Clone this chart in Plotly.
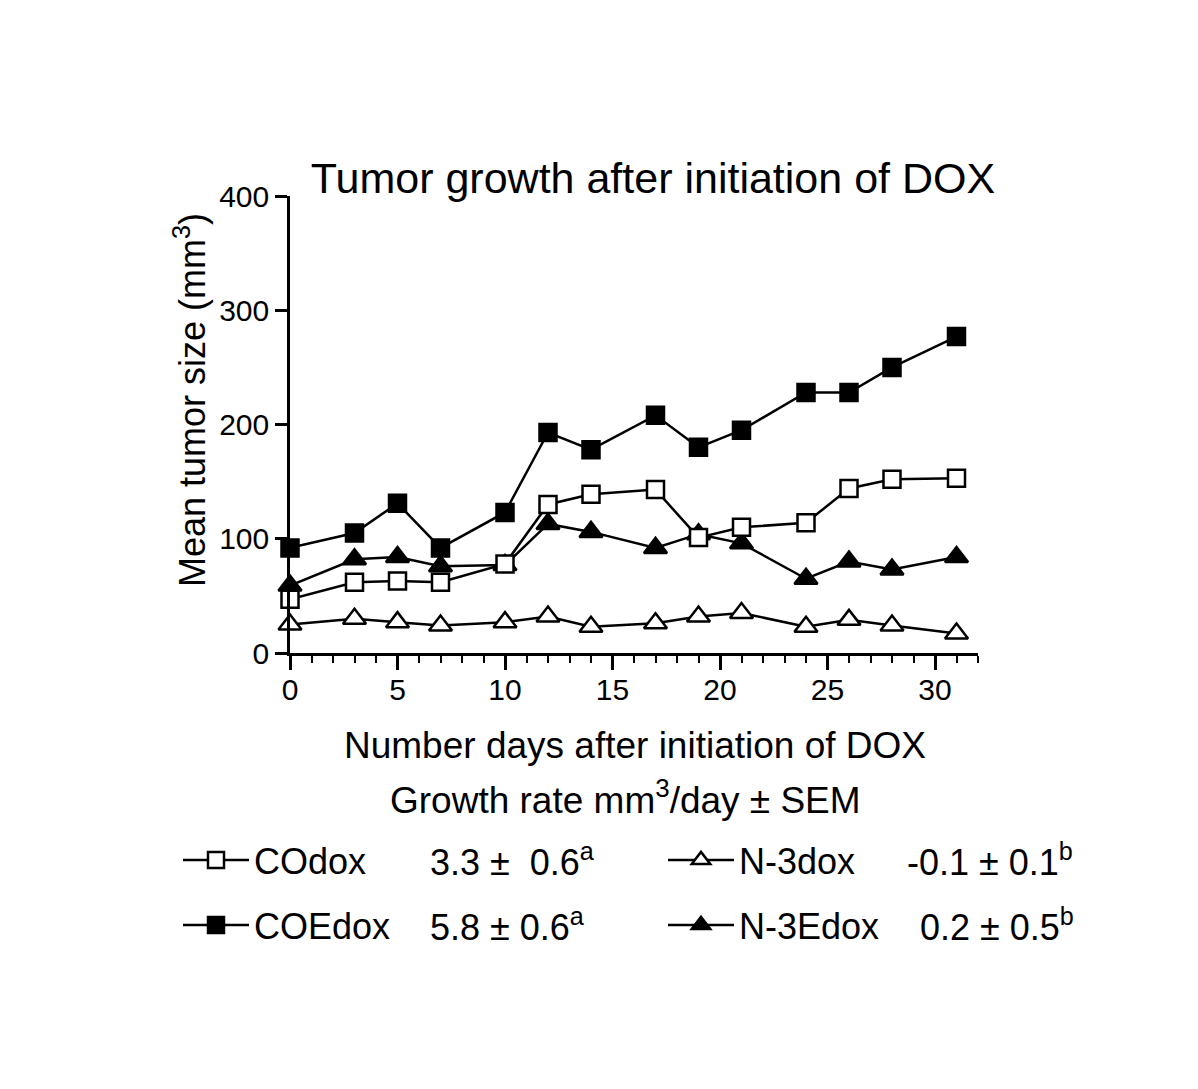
import plotly.graph_objects as go

days = [0, 3, 5, 7, 10, 12, 14, 17, 19, 21, 24, 26, 28, 31]
codox = [47, 62, 63, 62, 78, 130, 139, 143, 101, 110, 114, 144, 152, 153]
coedox = [92, 105, 131, 92, 123, 193, 178, 208, 180, 195, 228, 228, 250, 277]
n3dox = [25, 30, 27, 24, 27, 32, 23, 26, 32, 35, 23, 29, 24, 17]
n3edox = [59, 82, 84, 76, 77, 113, 106, 92, 104, 96, 65, 80, 73, 84]

names = ["COdox", "COEdox", "N-3dox", "N-3Edox"]
rates = ["3.3 \u00b1  0.6<sup>a</sup>", "5.8 \u00b1 0.6<sup>a</sup>",
         "-0.1 \u00b1 0.1<sup>b</sup>", "0.2 \u00b1 0.5<sup>b</sup>"]

title = "Tumor growth after initiation of DOX"
ytitle = "Mean tumor size (mm<sup>3</sup>)"
xtitle = "Number days after initiation of DOX"
subtitle = "Growth rate mm<sup>3</sup>/day \u00b1 SEM"

FONT = "Liberation Sans, Arial, sans-serif"
W, H = 1198, 1089
OFF = 8  # page body margin
PL, PR, PT, PB = 290, 978, 196, 653  # plot area in page pixels
L, T = PL - OFF, PT - OFF
R, B = W - (PR - OFF), H - (PB - OFF)
pw, ph = PR - PL, PB - PT

def px_x(p):
    return (p - PL) / pw

def px_y(p):
    return (PB - p) / ph

fig = go.Figure()

# (name, values, symbol, fill, legend id, legend x px, legend y px)
series = [
    (names[3], n3edox, "triangle-up", "black", "legend4", 663, 925),
    (names[2], n3dox, "triangle-up", "white", "legend3", 663, 860),
    (names[1], coedox, "square", "black", "legend2", 178, 925),
    (names[0], codox, "square", "white", "legend", 178, 860),
]
legend_layout = {}
for name, vals, sym, fill, leg, lx, ly in series:
    fig.add_trace(go.Scatter(
        x=days, y=vals, name=name, mode="lines+markers",
        line=dict(color="black", width=2.5),
        marker=dict(symbol=sym, size=17 if sym == "square" else 20, color=fill,
                    line=dict(color="black", width=2.5)),
        cliponaxis=False, legend=leg,
    ))
    legend_layout[leg] = dict(
        orientation="h", x=px_x(lx), xanchor="left", y=px_y(ly), yanchor="middle",
        itemwidth=66, font=dict(size=36, family=FONT, color="black"),
        bgcolor="rgba(0,0,0,0)", borderwidth=0)

fig.update_layout(
    width=W, height=H,
    margin=dict(l=L, r=R, t=T, b=B, autoexpand=False),
    paper_bgcolor="white", plot_bgcolor="white",
    font=dict(family=FONT, color="black", size=30),
    title=dict(text=title, x=px_x(653), xref="paper", xanchor="center",
               y=1 - (178 - OFF) / H, yref="container", yanchor="middle",
               font=dict(size=43, family=FONT, color="black")),
    xaxis=dict(range=[0, 32], showgrid=False, zeroline=False,
               showline=True, linecolor="black", linewidth=2.5,
               ticks="outside", ticklen=14, tickwidth=2.5, tickcolor="black",
               tickvals=[0, 5, 10, 15, 20, 25, 30],
               tickfont=dict(size=30), ticklabelstandoff=-6,
               minor=dict(dtick=1, ticks="outside", ticklen=7, tickwidth=2,
                          tickcolor="black", showgrid=False)),
    yaxis=dict(range=[0, 400], showgrid=False, zeroline=False,
               showline=True, linecolor="black", linewidth=2.5,
               ticks="outside", ticklen=12, tickwidth=2.5, tickcolor="black",
               tickvals=[0, 100, 200, 300, 400],
               tickfont=dict(size=30)),
    showlegend=True,
    **legend_layout,
)

ann = [
    (ytitle, px_x(190), px_y(400), -90, 36, "center"),
    (xtitle, px_x(635), px_y(745), 0, 37, "center"),
    (subtitle, px_x(625), px_y(797), 0, 37, "center"),
    (rates[0], px_x(428), px_y(860), 0, 36, "left"),
    (rates[1], px_x(428), px_y(925), 0, 36, "left"),
    (rates[2], px_x(905), px_y(860), 0, 36, "left"),
    (rates[3], px_x(918), px_y(925), 0, 36, "left"),
]
for text, x, y, ang, size, xa in ann:
    fig.add_annotation(text=text, x=x, y=y, xref="paper", yref="paper",
                       textangle=ang, showarrow=False, xanchor=xa, yanchor="middle",
                       font=dict(size=size, family=FONT, color="black"))

fig.write_html("out.html")
